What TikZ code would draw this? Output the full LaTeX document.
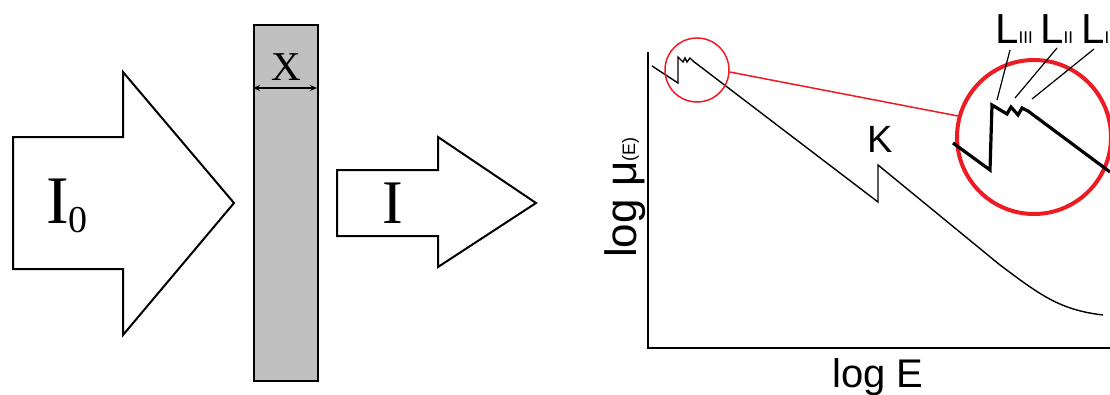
\documentclass[tikz,border=0pt]{standalone}
\usepackage{fontspec}
\setmainfont{Liberation Serif}
\newfontfamily\arial{Liberation Sans}
\usetikzlibrary{arrows.meta}
\definecolor{zoomred}{HTML}{ED1C24}
\definecolor{slabgray}{HTML}{C0C0C0}
\tikzset{
  beam/.style={draw=black, line width=2pt, line join=miter, fill=white},
  slabbox/.style={draw=black, line width=2pt, fill=slabgray, inner sep=0pt},
  lbl/.style={inner sep=0pt},
  axisline/.style={draw=black, line width=1.6pt},
  spectrum/.style={draw=black, line width=1.4pt, line join=miter},
  bigspectrum/.style={draw=black, line width=3.2pt, line join=miter},
  lens/.style={draw=zoomred, line width=1.5pt},
  biglens/.style={draw=zoomred, line width=4pt},
  pointer/.style={draw=black, line width=1.2pt},
}
\begin{document}
\begin{tikzpicture}[x=1pt,y=-1pt]
\useasboundingbox (0,0) rectangle (1110,394);
% incident beam
\draw[beam] (13,137) -- (123,137) -- (123,72) -- (234,203) -- (123,335) -- (123,269) -- (13,269) -- cycle;
\node[lbl, anchor=base west] (i0) at (46,223) {\fontsize{68}{68}\selectfont I\raisebox{-9pt}{\fontsize{38}{38}\selectfont 0}};
% slab
\node[slabbox, minimum width=64pt, minimum height=356pt, anchor=north west] (slab) at (253,24) {};
\coordinate (dl) at (253,88);
\coordinate (dr) at (317,88);
\draw[line width=1.4pt, {Stealth[length=7pt,width=6pt]}-{Stealth[length=7pt,width=6pt]}] (dl) -- (dr);
\node[lbl, anchor=base] (xlab) at (286,80) {\fontsize{41}{41}\selectfont X};
% transmitted beam
\draw[beam] (337,170) -- (438,170) -- (438,137) -- (536,203) -- (438,267) -- (438,236) -- (337,236) -- cycle;
\node[lbl, anchor=base] (ilab) at (393,223) {\fontsize{62}{62}\selectfont I};
% axes
\coordinate (ytop) at (648,52);
\coordinate (origin) at (648,348);
\coordinate (xend) at (1112,348);
\draw[axisline] (ytop) -- (origin) -- (xend);
\node[lbl, anchor=base] (xaxis) at (878,387) {\arial\fontsize{40}{40}\selectfont log E};
\node[lbl, anchor=base west, rotate=90] (yaxis) at (636,258) {\arial\fontsize{44}{44}\selectfont log μ\raisebox{1pt}{\fontsize{18}{18}\selectfont (E)}};
% spectrum
\draw[spectrum] (652,66) -- (678,83) -- (678,57) -- (683,62) -- (685,58) -- (687,62) -- (690,58) -- (693,61)
  -- (878,202) -- (878,165) -- (1000,265) .. controls (1040,295) and (1060,310) .. (1103,315);
\node[lbl, anchor=base] (klab) at (880,152) {\arial\fontsize{38}{38}\selectfont K};
% magnifier
\node[lens, circle, minimum size=64pt, inner sep=0pt] (small) at (697,70) {};
\node[biglens, circle, minimum size=154pt, inner sep=0pt] (big) at (1034,137) {};
\draw[lens] (small.east) ++(0,2) coordinate (ls) -- (958,116) coordinate (le);
\draw[bigspectrum] (953,143) -- (990,170) -- (992,105) -- (1007,114) -- (1011,107) -- (1018,115) -- (1022,108) -- (1028,111) -- (1110,172);
% edge labels
\node[lbl, anchor=base west] (l3) at (995,43) {\arial\fontsize{42}{42}\selectfont L\fontsize{17}{17}\selectfont III};
\node[lbl, anchor=base west] (l2) at (1040,43) {\arial\fontsize{42}{42}\selectfont L\fontsize{17}{17}\selectfont II};
\node[lbl, anchor=base west] (l1) at (1081,43) {\arial\fontsize{42}{42}\selectfont L\fontsize{17}{17}\selectfont I};
\coordinate (p3) at (997,100);
\coordinate (p2) at (1015,98);
\coordinate (p1) at (1032,99);
\draw[pointer] (1010,50) -- (p3);
\draw[pointer] (1057,48) -- (p2);
\draw[pointer] (1094,49) -- (p1);
\end{tikzpicture}
\end{document}
